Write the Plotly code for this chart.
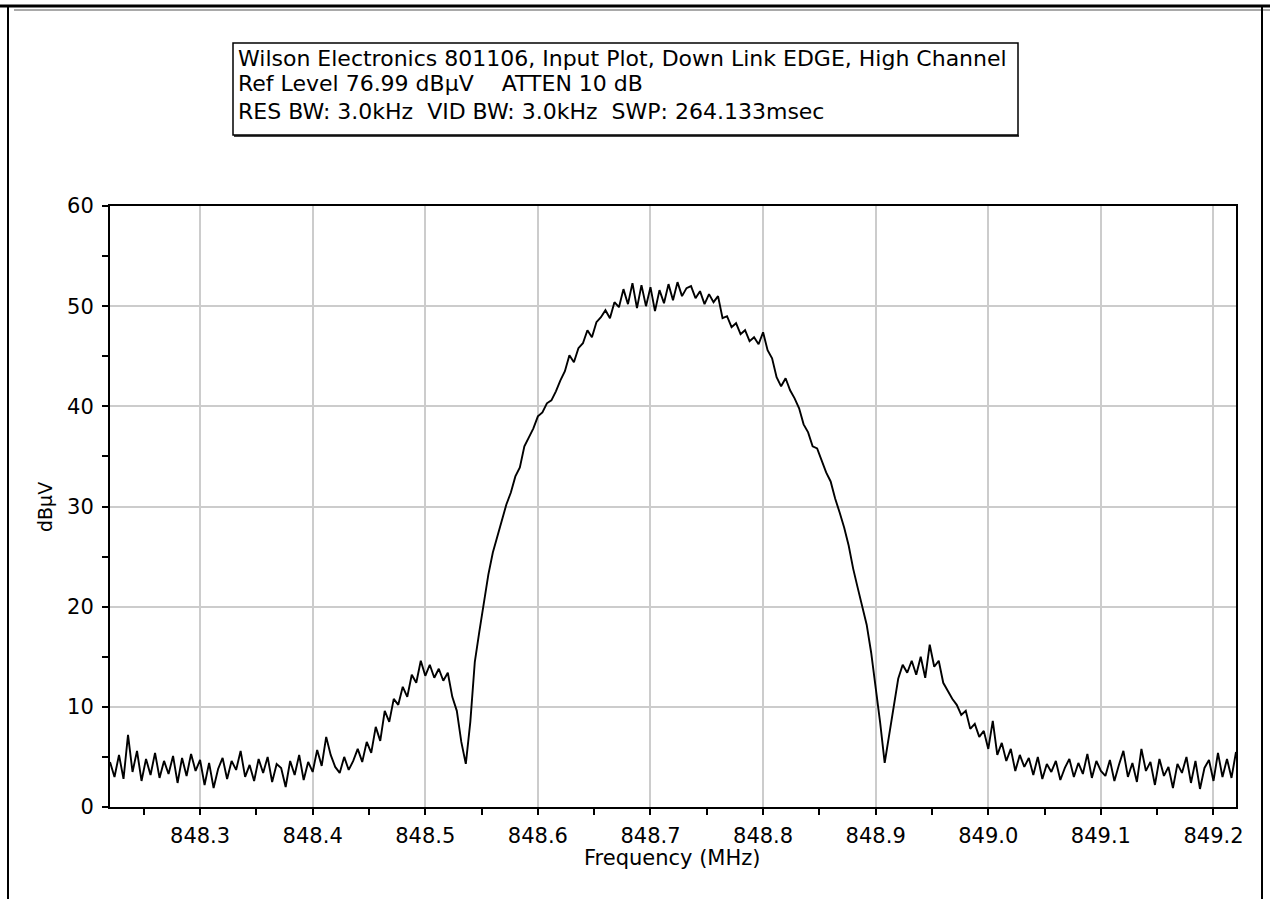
import numpy as np
import plotly.graph_objects as go

# Sweep: 848.22 .. 849.22 MHz, 251 points
f_start = 848.22
f_stop = 849.22
level_dbuv = [
    # 848.220 - 848.316
    4.5, 3.0, 5.2, 2.8, 7.2, 3.5, 5.6, 2.6, 4.8, 3.2, 5.4, 2.9, 4.6, 3.3, 5.1, 2.4, 4.9, 3.1, 5.3, 3.6, 4.7, 2.2, 4.4, 1.9, 3.8,
    # 848.320 - 848.416
    4.9, 2.8, 4.6, 3.7, 5.6, 3.0, 4.2, 2.6, 4.8, 3.4, 5.0, 2.5, 4.3, 3.9, 2.0, 4.6, 3.2, 5.2, 2.7, 4.5, 3.5, 5.7, 4.1, 7.0, 5.2,
    # 848.420 - 848.516
    4.0, 3.4, 5.0, 3.7, 4.6, 5.8, 4.5, 6.5, 5.4, 8.0, 6.6, 9.6, 8.5, 10.8, 10.2, 12.0, 11.0, 13.2, 12.4, 14.6, 13.1, 14.2, 12.9, 13.8, 12.6,
    # 848.520 - 848.616
    13.4, 11.0, 9.6, 6.5, 4.3, 8.5, 14.5, 17.5, 20.6, 23.2, 25.4, 27.0, 28.6, 30.2, 31.4, 33.0, 33.9, 36.0, 36.9, 37.8, 39.0, 39.4, 40.3, 40.6, 41.5,
    # 848.620 - 848.716
    42.6, 43.5, 45.1, 44.4, 45.8, 46.3, 47.6, 46.9, 48.4, 48.9, 49.6, 48.8, 50.4, 49.9, 51.7, 50.2, 52.3, 49.8, 52.1, 50.0, 51.9, 49.5, 51.6, 50.3, 52.2,
    # 848.720 - 848.816
    50.6, 52.4, 51.0, 51.8, 52.0, 50.8, 51.5, 50.2, 51.2, 50.4, 51.0, 48.8, 49.0, 47.9, 48.3, 47.2, 47.6, 46.5, 46.9, 46.2, 47.4, 45.6, 44.8, 42.9, 42.0,
    # 848.820 - 848.916
    42.8, 41.6, 40.8, 39.8, 38.2, 37.4, 36.0, 35.8, 34.6, 33.4, 32.5, 30.8, 29.4, 27.9, 26.1, 23.8, 21.9, 20.0, 18.2, 15.4, 12.0, 8.4, 4.4, 7.2, 9.6,
    # 848.920 - 849.016
    12.8, 14.2, 13.4, 14.6, 13.2, 15.0, 12.9, 16.2, 14.0, 14.6, 12.4, 11.6, 10.8, 10.2, 9.2, 9.6, 7.8, 8.3, 7.0, 7.6, 5.8, 8.6, 5.2, 6.4, 4.6,
    # 849.020 - 849.116
    5.8, 3.6, 5.2, 4.0, 4.9, 3.2, 5.0, 2.8, 4.3, 3.5, 4.6, 2.7, 3.9, 4.8, 3.0, 4.4, 3.3, 5.3, 2.9, 4.6, 3.6, 3.1, 4.7, 2.6, 4.2,
    # 849.120 - 849.220
    5.6, 3.0, 4.4, 2.5, 5.8, 3.6, 4.5, 2.2, 4.8, 3.1, 4.0, 1.9, 4.3, 3.4, 5.0, 2.4, 4.6, 1.8, 3.9, 4.7, 2.6, 5.4, 3.0, 4.8, 2.9, 5.5,
]
freq_mhz = np.linspace(f_start, f_stop, len(level_dbuv))

x_ticks = [848.3, 848.4, 848.5, 848.6, 848.7, 848.8, 848.9, 849.0, 849.1, 849.2]
y_ticks = [0, 10, 20, 30, 40, 50, 60]

header_lines = [
    "Wilson Electronics 801106, Input Plot, Down Link EDGE, High Channel",
    "Ref Level 76.99 dBµV    ATTEN 10 dB",
    "RES BW: 3.0kHz  VID BW: 3.0kHz  SWP: 264.133msec",
]
x_title = "Frequency (MHz)"
y_title = "dBµV"

W, H = 1270, 899
L, R, T, B = 110, 1236, 206, 807
FONT = "DejaVu Sans"

def px(x):
    return (x - L) / (R - L)

def py(y):
    return (B - y) / (B - T)

fig = go.Figure()
fig.add_trace(go.Scatter(x=freq_mhz, y=level_dbuv, mode="lines",
                         line=dict(color="black", width=1.9), showlegend=False))

shapes = []
# outer frame
shapes.append(dict(type="line", xref="paper", yref="paper", x0=px(0), x1=px(1270), y0=py(6), y1=py(6),
                   line=dict(color="black", width=3)))
shapes.append(dict(type="line", xref="paper", yref="paper", x0=px(14), x1=px(1270), y0=py(10), y1=py(10),
                   line=dict(color="#555555", width=1)))
shapes.append(dict(type="line", xref="paper", yref="paper", x0=px(8), x1=px(8), y0=py(6), y1=py(899),
                   line=dict(color="black", width=2)))
shapes.append(dict(type="line", xref="paper", yref="paper", x0=px(1262), x1=px(1262), y0=py(6), y1=py(899),
                   line=dict(color="black", width=2)))
# header box
shapes.append(dict(type="rect", xref="paper", yref="paper", x0=px(233), x1=px(1018), y0=py(135), y1=py(43),
                   line=dict(color="black", width=1.5), fillcolor="white"))
shapes.append(dict(type="line", xref="paper", yref="paper", x0=px(234), x1=px(1019), y0=py(136), y1=py(136),
                   line=dict(color="black", width=1.5)))

annotations = []
for txt, yy in zip(header_lines, [58, 84, 112]):
    annotations.append(dict(text=txt, xref="paper", yref="paper", x=px(236), y=py(yy),
                            xanchor="left", yanchor="middle", showarrow=False,
                            font=dict(family=FONT, size=22, color="black")))
annotations.append(dict(text=x_title, xref="paper", yref="paper", x=px(672), y=py(858),
                        xanchor="center", yanchor="middle", showarrow=False,
                        font=dict(family=FONT, size=21, color="black")))
annotations.append(dict(text=y_title, xref="paper", yref="paper", x=px(45), y=py(507),
                        xanchor="center", yanchor="middle", showarrow=False, textangle=-90,
                        font=dict(family=FONT, size=19, color="black")))

fig.update_layout(
    width=W, height=H,
    margin=dict(l=L, r=W - R, t=T, b=H - B),
    paper_bgcolor="white", plot_bgcolor="white",
    shapes=shapes, annotations=annotations,
    font=dict(family=FONT, color="black"),
)
fig.update_xaxes(
    range=[f_start, f_stop], tickvals=x_ticks, ticktext=[f"{v:.1f}" for v in x_ticks],
    showgrid=True, gridcolor="#cccccc", gridwidth=1.5,
    showline=True, linecolor="black", linewidth=2, mirror=True,
    ticks="outside", ticklen=6, tickwidth=1.5, tickcolor="black",
    minor=dict(tick0=848.25, dtick=0.1, ticks="outside", ticklen=6, tickwidth=1.5, tickcolor="black", showgrid=False),
    tickfont=dict(family=FONT, size=21), ticklabelstandoff=3,
    zeroline=False,
)
fig.update_yaxes(
    range=[0, 60], tickvals=y_ticks,
    showgrid=True, gridcolor="#cccccc", gridwidth=1.5,
    showline=True, linecolor="black", linewidth=2, mirror=True,
    ticks="outside", ticklen=6, tickwidth=1.5, tickcolor="black",
    minor=dict(tick0=5, dtick=10, ticks="outside", ticklen=6, tickwidth=1.5, tickcolor="black", showgrid=False),
    tickfont=dict(family=FONT, size=21), ticklabelstandoff=4,
    zeroline=False,
)

fig.write_html("out.html", config={"displayModeBar": False},
               post_script="document.body.style.margin='0px';document.body.style.overflow='hidden';")
